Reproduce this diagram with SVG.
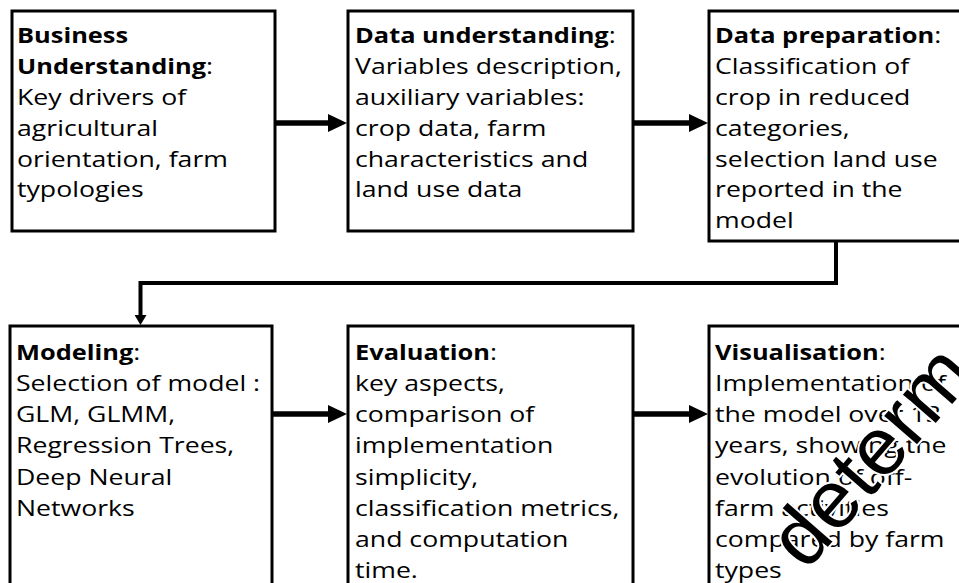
<svg xmlns="http://www.w3.org/2000/svg" width="959" height="583" viewBox="0 0 959 583">
<style>
.box{fill:#fff;stroke:#000;stroke-width:3}
.t{font-family:"Open Sans","Noto Sans","Liberation Sans",sans-serif;font-size:21.5px;fill:#000}
.b{font-weight:bold;font-size:20.5px}
.conn{fill:none;stroke:#000}
.wm{font-family:"Liberation Sans",Arial,sans-serif;font-size:82px;fill:#000;stroke:#fff;stroke-width:4;paint-order:stroke;stroke-linejoin:round}
</style>
<defs>
<marker id="ah" markerUnits="userSpaceOnUse" markerWidth="20" markerHeight="18" refX="1" refY="9" orient="auto">
<path d="M0,0 L19,9 L0,18 Z" fill="#000"/>
</marker>
<marker id="as" markerUnits="userSpaceOnUse" markerWidth="11" markerHeight="12" refX="1" refY="6" orient="auto">
<path d="M0,0 L10,6 L0,12 Z" fill="#000"/>
</marker>
</defs>
<rect width="959" height="583" fill="#fff"/>
<g id="connectors">
<path class="conn" stroke-width="5.5" d="M275,123 L329,123" marker-end="url(#ah)"/>
<path class="conn" stroke-width="5.5" d="M633,123 L690,123" marker-end="url(#ah)"/>
<path class="conn" stroke-width="4" d="M836,241 L836,283 L140.5,283 L140.5,316" marker-end="url(#as)"/>
<path class="conn" stroke-width="5.5" d="M272,414 L329,414" marker-end="url(#ah)"/>
<path class="conn" stroke-width="5.5" d="M633,414 L690,414" marker-end="url(#ah)"/>
</g>
<g id="business-understanding">
<rect class="box" x="12" y="11" width="263" height="220"/>
<g transform="translate(17,0) scale(1.24,1)">
<text class="t" x="0" y="43"><tspan class="b">Business</tspan></text>
<text class="t" x="0" y="74"><tspan class="b">Understanding</tspan>:</text>
<text class="t" x="0" y="105">Key drivers of</text>
<text class="t" x="0" y="136">agricultural</text>
<text class="t" x="0" y="167">orientation, farm</text>
<text class="t" x="0" y="197">typologies</text>
</g>
</g>
<g id="data-understanding">
<rect class="box" x="348" y="11" width="285" height="220"/>
<g transform="translate(355,0) scale(1.24,1)">
<text class="t" x="0" y="43"><tspan class="b">Data understanding</tspan>:</text>
<text class="t" x="0" y="74">Variables description,</text>
<text class="t" x="0" y="105">auxiliary variables:</text>
<text class="t" x="0" y="136">crop data, farm</text>
<text class="t" x="0" y="167">characteristics and</text>
<text class="t" x="0" y="197">land use data</text>
</g>
</g>
<g id="data-preparation">
<rect class="box" x="709" y="11" width="270" height="230"/>
<g transform="translate(715,0) scale(1.24,1)">
<text class="t" x="0" y="43"><tspan class="b">Data preparation</tspan>:</text>
<text class="t" x="0" y="74">Classification of</text>
<text class="t" x="0" y="105">crop in reduced</text>
<text class="t" x="0" y="136">categories,</text>
<text class="t" x="0" y="167">selection land use</text>
<text class="t" x="0" y="197">reported in the</text>
<text class="t" x="0" y="228">model</text>
</g>
</g>
<g id="modeling">
<rect class="box" x="10" y="326" width="262" height="280"/>
<g transform="translate(16,0) scale(1.24,1)">
<text class="t" x="0" y="360"><tspan class="b">Modeling</tspan>:</text>
<text class="t" x="0" y="391">Selection of model :</text>
<text class="t" x="0" y="422">GLM, GLMM,</text>
<text class="t" x="0" y="453">Regression Trees,</text>
<text class="t" x="0" y="485">Deep Neural</text>
<text class="t" x="0" y="516">Networks</text>
</g>
</g>
<g id="evaluation">
<rect class="box" x="348" y="326" width="285" height="280"/>
<g transform="translate(355,0) scale(1.24,1)">
<text class="t" x="0" y="360"><tspan class="b">Evaluation</tspan>:</text>
<text class="t" x="0" y="391">key aspects,</text>
<text class="t" x="0" y="422">comparison of</text>
<text class="t" x="0" y="453">implementation</text>
<text class="t" x="0" y="485">simplicity,</text>
<text class="t" x="0" y="516">classification metrics,</text>
<text class="t" x="0" y="547">and computation</text>
<text class="t" x="0" y="578">time.</text>
</g>
</g>
<g id="visualisation">
<rect class="box" x="709" y="326" width="270" height="280"/>
<g transform="translate(715,0) scale(1.24,1)">
<text class="t" x="0" y="360"><tspan class="b">Visualisation</tspan>:</text>
<text class="t" x="0" y="391">Implementation of</text>
<text class="t" x="0" y="422">the model over 13</text>
<text class="t" x="0" y="453">years, showing the</text>
<text class="t" x="0" y="485">evolution of off-</text>
<text class="t" x="0" y="516">farm activities</text>
<text class="t" x="0" y="547">compared by farm</text>
<text class="t" x="0" y="578">types</text>
</g>
</g>
<text class="wm" transform="translate(806,572) rotate(-49)" letter-spacing="1">determ</text>
</svg>
